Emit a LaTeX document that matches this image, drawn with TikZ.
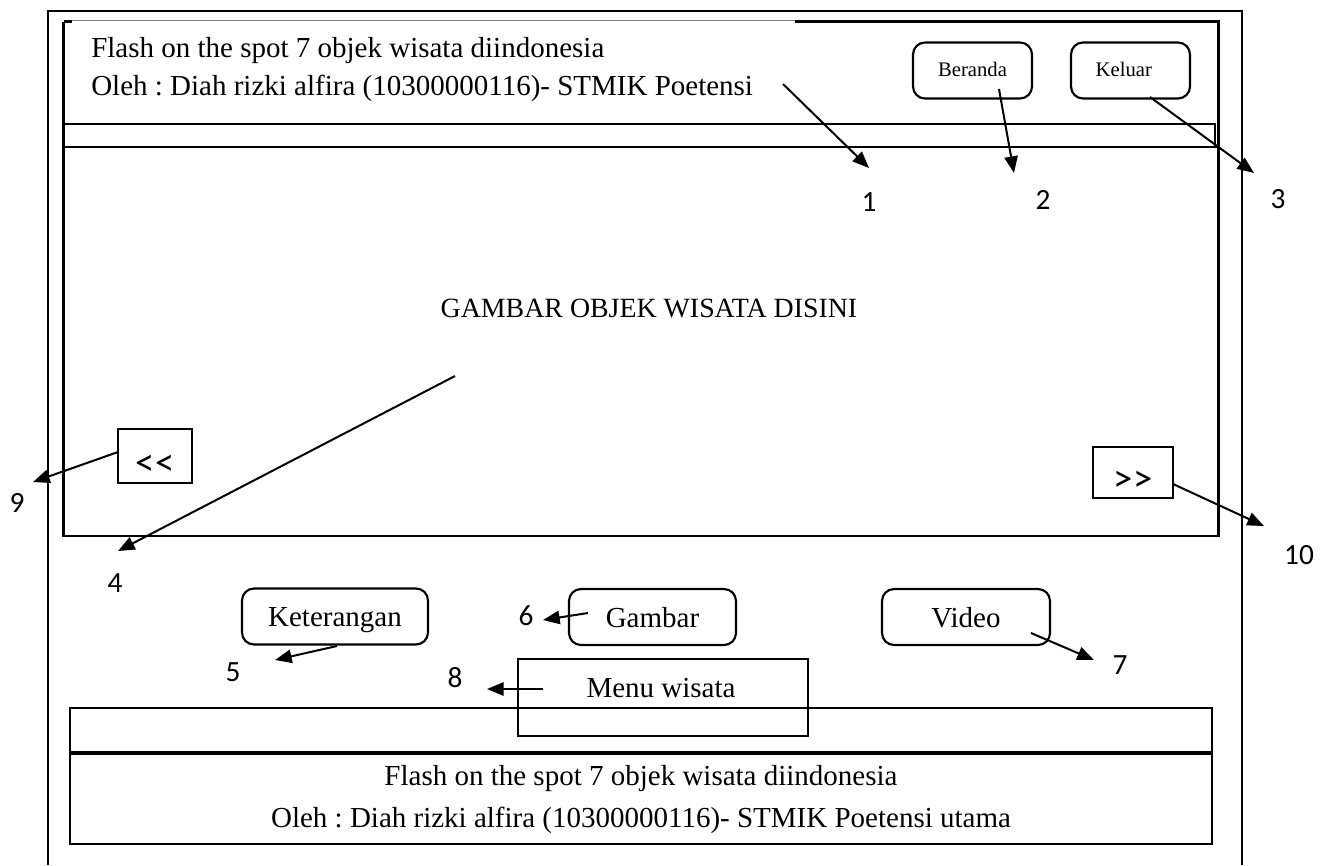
\documentclass[tikz,border=0pt]{standalone}
\usepackage{fontspec}
\setmainfont{Liberation Serif}
\newfontfamily\numfont{Carlito}
\usetikzlibrary{arrows.meta}
\frenchspacing
\tikzset{
  frame/.style={line width=1.6pt},
  btn/.style={draw, line width=1.6pt, rounded corners=9pt, minimum width=#1, minimum height=56*0.75pt, inner sep=0pt},
  sqbtn/.style={draw, line width=1.6pt, inner sep=0pt},
  lbl/.style={font=\numfont\fontsize{22}{26}\selectfont, inner sep=0pt},
  maintxt/.style={font=\fontsize{21.75}{26}\selectfont, inner sep=0pt},
  bigbtntxt/.style={font=\fontsize{21.75}{26}\selectfont, text height=18pt, text depth=3pt},
  smalltxt/.style={font=\fontsize{15.5}{18}\selectfont, text height=11pt, text depth=2.75pt},
  navtxt/.style={font=\numfont\fontsize{29}{32}\selectfont, text height=30pt, text depth=1.5pt},
  callout/.style={line width=1.5pt, -{Triangle[length=12.5pt,width=10pt]}}
}
\begin{document}
\begin{tikzpicture}[x=0.75pt,y=-0.75pt]
\useasboundingbox (0,0) rectangle (1330,865);
% outer frame (open at bottom)
\draw[frame] (48,865) -- (48,11) -- (1242,11) -- (1242,865);
% inner screen frame
\draw[frame] (795,21.5) -- (1218.5,21.5) -- (1218.5,536) -- (63.5,536) -- (63.5,21.5);
\draw[line width=0.8pt, gray] (63.5,20.5) -- (795,20.5);
\draw[frame] (63.5,21.5) -- (72,21.5);
% header separator lines
\draw[frame] (63.5,124) -- (1215,124) -- (1215,147);
\draw[frame] (63.5,147) -- (1218.5,147);
% header texts
\node[maintxt, anchor=base west] (h1) at (91,57.5) {Flash on the spot 7 objek wisata diindonesia};
\node[maintxt, anchor=base west] (h2) at (91,95) {Oleh : Diah rizki alfira (10300000116)- STMIK Poetensi};
% top buttons
\node[btn=119*0.75pt, smalltxt] (beranda) at (972.5,70.5) {Beranda};
\node[btn=119*0.75pt, smalltxt] (keluar) at (1130.5,70.5) {\hspace*{-10pt}Keluar};
% main picture text
\node[font=\fontsize{20.9}{25}\selectfont, inner sep=0pt, anchor=base] (gambartxt) at (649,317) {GAMBAR OBJEK WISATA DISINI};
% navigation buttons
\node[sqbtn, minimum width=74*0.75pt, minimum height=54*0.75pt, navtxt] (prev) at (155,456) {<<};
\node[sqbtn, minimum width=80*0.75pt, minimum height=51*0.75pt, navtxt] (next) at (1133,472.5) {>>};
% lower buttons
\node[btn=186*0.75pt, bigbtntxt] (ket) at (335,616.5) {Keterangan};
\node[btn=167*0.75pt, bigbtntxt] (gambar) at (652.5,617) {Gambar};
\node[btn=168*0.75pt, bigbtntxt] (video) at (966,617) {Video};
% bottom panel
\draw[frame] (70,708) rectangle (1212,844);
\draw[line width=3.2pt] (70,753) -- (1212,753);
\node[sqbtn, minimum width=290*0.75pt, minimum height=77*0.75pt] (menu) at (663,697.5) {};
\node[maintxt, anchor=base] (menutxt) at (661,697) {Menu wisata};
\node[maintxt, anchor=base] (f1) at (641,785) {Flash on the spot 7 objek wisata diindonesia};
\node[maintxt, anchor=base] (f2) at (641,827) {Oleh : Diah rizki alfira (10300000116)- STMIK Poetensi utama};
% number labels
\node[lbl] (n1) at (869,202) {1};
\node[lbl] (n2) at (1043,200) {2};
\node[lbl] (n3) at (1278,199) {3};
\node[lbl] (n4) at (115,583) {4};
\node[lbl] (n5) at (233,672) {5};
\node[lbl] (n6) at (526,616) {6};
\node[lbl] (n7) at (1120,665) {7};
\node[lbl] (n8) at (455,678) {8};
\node[lbl] (n9) at (17,503) {9};
\node[lbl] (n10) at (1299,555) {10};
% arrow start and tip points
\coordinate (s1) at (783,84);   \coordinate (t1) at (869,168);
\coordinate (s2) at (999,89);   \coordinate (t2) at (1014,173);
\coordinate (s3) at (1150,97);  \coordinate (t3) at (1254,173);
\coordinate (s4) at (455,376);  \coordinate (t4) at (118,551);
\coordinate (s5) at (337,646);  \coordinate (t5) at (275,660);
\coordinate (s6) at (588,613);  \coordinate (t6) at (543,620);
\coordinate (s7) at (1031,633); \coordinate (t7) at (1094,660);
\coordinate (s8) at (543,689);  \coordinate (t8) at (487,689);
\coordinate (s9) at (118,452);  \coordinate (t9) at (33,482);
\coordinate (s10) at (1173,484); \coordinate (t10) at (1264,526);
\foreach \i in {1,...,10} { \draw[callout] (s\i) -- (t\i); }
\end{tikzpicture}
\end{document}
